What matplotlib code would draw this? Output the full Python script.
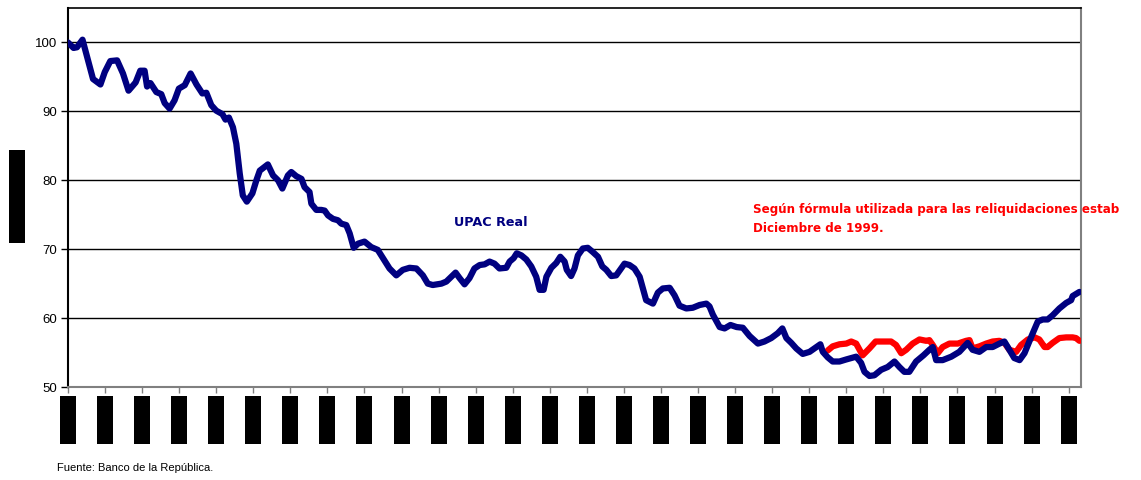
import matplotlib
matplotlib.use("Agg")
import matplotlib.pyplot as plt
import matplotlib.transforms as mtransforms
from matplotlib.patches import Rectangle

# =========================
# STYLE
# =========================

plt.rcParams.update({
    "font.family": ["Liberation Sans", "DejaVu Sans"],
    "font.size": 9.5,
    "axes.linewidth": 1.5,
})

# =========================
# DATA (months from start, index values)
# =========================

upac_mes = [
    0, 1.8, 2.9, 4.7, 6.5, 8.1, 10.5, 11.9, 13.7, 15.9, 17.8, 19.6, 21.9, 23.4,
    24.8, 25.6, 26.7, 28.6, 30.2, 31.3, 32.9, 34.5, 35.9, 37.8, 39.7, 41.6,
    43.5, 44.8, 46.4, 48.0, 50.0, 51.0, 52.1, 53.4, 54.5, 55.6, 56.6, 57.9,
    59.7, 61.0, 62.1, 64.7, 66.4, 68.0, 69.4, 71.2, 72.3, 73.9, 75.6, 76.6,
    78.2, 78.8, 80.4, 82.0, 83.1, 84.2, 85.8, 87.4, 88.5, 90.1, 91.2, 92.5,
    93.9, 96.0, 98.2, 100.3, 102.0, 104.1, 106.3, 108.4, 110.6, 112.8, 114.9,
    116.5, 118.1, 120.9, 122.5, 124.1, 125.5, 126.8, 128.4, 130.0, 131.6,
    133.3, 134.9, 136.5, 138.1, 139.7, 141.9, 143.0, 144.3, 145.3, 146.8,
    148.4, 150.0, 151.6, 152.7, 154.0, 154.9, 156.5, 158.1, 159.4, 160.8,
    161.5, 162.9, 164.0, 165.1, 166.7, 168.3, 169.9, 171.6, 173.0, 174.3,
    175.9, 177.5, 179.1, 180.2, 181.8, 183.4, 185.1, 186.1, 187.2, 189.4,
    191.0, 192.6, 194.8, 196.4, 198.0, 200.2, 202.3, 204.5, 206.7, 207.7,
    208.8, 211.0, 212.6, 214.5, 216.5, 218.5, 220.7, 223.4, 225.5, 227.7,
    229.8, 231.3, 232.6, 234.2, 235.8, 237.9, 240.1, 242.3, 243.6, 244.4,
    246.0, 247.6, 249.8, 252.0, 255.2, 256.8, 257.9, 259.5, 261.1, 263.3,
    265.4, 267.6, 269.2, 270.8, 272.4, 274.6, 277.0, 278.9, 280.0, 281.1,
    283.2, 286.0, 288.6, 291.3, 292.9, 295.1, 297.3, 299.4, 301.6, 303.2,
    304.8, 306.4, 308.1, 309.7, 311.9, 314.0, 315.6, 317.2, 318.8, 321.0,
    323.2, 324.8, 325.3, 327.5,
]

upac_real = [
    100.0, 99.2, 99.3, 100.4, 97.4, 94.7, 93.9, 95.7, 97.3, 97.4, 95.5, 93.0,
    94.2, 95.9, 95.9, 93.6, 94.1, 92.8, 92.5, 91.2, 90.4, 91.6, 93.3, 93.8,
    95.5, 93.9, 92.6, 92.7, 90.9, 90.1, 89.6, 88.8, 89.1, 87.7, 85.3, 81.0,
    77.8, 76.9, 78.1, 80.0, 81.4, 82.3, 80.7, 80.0, 78.8, 80.7, 81.2, 80.6,
    80.2, 79.0, 78.3, 76.6, 75.7, 75.7, 75.6, 74.9, 74.4, 74.2, 73.7, 73.5,
    72.3, 70.2, 70.8, 71.1, 70.3, 69.9, 68.7, 67.2, 66.2, 67.0, 67.3, 67.2,
    66.2, 65.0, 64.8, 65.0, 65.3, 66.0, 66.6, 65.8, 64.9, 65.8, 67.2, 67.7,
    67.8, 68.2, 67.9, 67.2, 67.3, 68.2, 68.7, 69.4, 69.1, 68.5, 67.5, 66.0,
    64.1, 64.1, 66.0, 67.3, 68.0, 68.9, 68.2, 67.0, 66.1, 67.2, 69.1, 70.1,
    70.2, 69.6, 68.9, 67.5, 67.0, 66.1, 66.2, 67.2, 67.9, 67.7, 67.2, 66.0,
    64.4, 62.6, 62.1, 63.7, 64.3, 64.4, 63.3, 61.8, 61.4, 61.5, 61.9, 62.1,
    61.7, 60.5, 58.7, 58.5, 59.0, 58.7, 58.6, 57.4, 56.3, 56.6, 57.1, 57.8,
    58.5, 57.1, 56.4, 55.6, 54.8, 55.1, 55.8, 56.2, 55.1, 54.3, 53.7, 53.7,
    54.0, 54.4, 53.5, 52.2, 51.6, 51.7, 52.5, 52.9, 53.7, 52.9, 52.2, 52.2,
    53.7, 54.6, 55.4, 55.8, 53.9, 53.9, 54.4, 55.1, 56.4, 55.4, 55.1, 55.8,
    55.8, 56.3, 56.6, 55.4, 54.2, 53.9, 54.9, 57.3, 59.5, 59.8, 59.8, 60.4,
    61.4, 62.2, 62.6, 63.2, 63.8,
]

reliq_mes = [
    246.0, 247.6, 249.8, 252.0, 253.6, 255.2, 256.3, 257.3, 259.5, 261.5,
    263.8, 266.5, 268.1, 269.8, 271.4, 273.5, 275.7, 277.9, 278.9, 280.0,
    281.6, 283.2, 285.4, 288.1, 290.8, 291.9, 292.9, 295.1, 297.3, 299.4,
    301.6, 303.2, 304.8, 307.0, 308.6, 310.8, 313.0, 314.5, 316.2, 317.2,
    318.8, 321.0, 323.2, 325.3, 326.4, 327.5,
]

reliq_valor = [
    55.3, 55.9, 56.2, 56.3, 56.6, 56.3, 55.4, 54.6, 55.6, 56.6, 56.6, 56.6,
    56.1, 54.9, 55.4, 56.3, 56.9, 56.7, 56.8, 56.1, 54.9, 55.8, 56.3, 56.3,
    56.7, 56.8, 55.6, 55.9, 56.3, 56.6, 56.7, 56.4, 55.4, 55.1, 56.1, 56.9,
    57.2, 56.9, 55.8, 55.8, 56.4, 57.1, 57.2, 57.2, 57.1, 56.7,
]

tick_meses = list(range(0, 325, 12))
y_ticks = [50, 60, 70, 80, 90, 100]

# =========================
# FIGURE
# =========================

fig = plt.figure(figsize=(11.41, 4.8), dpi=100)
ax = fig.add_axes([68 / 1141, 93 / 480, 1013 / 1141, 379 / 480])

ax.plot(reliq_mes, reliq_valor, color="#FF0000", linewidth=4.5,
        solid_joinstyle="round", solid_capstyle="round", zorder=3)
ax.plot(upac_mes, upac_real, color="#000080", linewidth=4.5,
        solid_joinstyle="round", solid_capstyle="round", zorder=4)

ax.set_xlim(0, 328)
ax.set_ylim(50, 105)
ax.set_yticks(y_ticks)
ax.set_xticks(tick_meses)
ax.set_xticklabels([])

for v in y_ticks[1:]:
    ax.axhline(v, color="black", linewidth=1.0, zorder=1)

ax.tick_params(axis="y", direction="out", length=5, width=1, pad=3,
               labelsize=9.5, colors="black")
ax.tick_params(axis="x", direction="out", length=4, width=1,
               color="#808080")

ax.spines["left"].set_color("black")
ax.spines["top"].set_color("black")
ax.spines["top"].set_linewidth(1.2)
ax.spines["right"].set_color("#808080")
ax.spines["bottom"].set_color("#808080")

# redacted x tick labels
trans = mtransforms.blended_transform_factory(ax.transData, fig.transFigure)
box_w = 16 / (1013 / 328)
for m in tick_meses:
    fig.patches.append(Rectangle((m - box_w / 2, 36 / 480), box_w, 48 / 480,
                                 transform=trans, facecolor="black",
                                 edgecolor="none", figure=fig))

# redacted y axis title
fig.patches.append(Rectangle((9 / 1141, 237 / 480), 16 / 1141, 93 / 480,
                             transform=fig.transFigure, facecolor="black",
                             edgecolor="none", figure=fig))

# annotations
ax.text(0.381, 0.435, "UPAC Real", transform=ax.transAxes,
        color="#000080", fontsize=9.2, fontweight="bold",
        family="DejaVu Sans", va="center", ha="left")

fig.text(753 / 1141, 1 - 210 / 480,
         "Según fórmula utilizada para las reliquidaciones estab",
         color="#FF0000", fontsize=8.6, fontweight="bold",
         family="DejaVu Sans", va="center", ha="left")
fig.text(753 / 1141, 1 - 228 / 480, "Diciembre de 1999.",
         color="#FF0000", fontsize=8.6, fontweight="bold",
         family="DejaVu Sans", va="center", ha="left")

fig.text(57 / 1141, 1 - 468 / 480, "Fuente: Banco de la República.",
         fontsize=8, va="center", ha="left")

fig.savefig("out.png", dpi=100, facecolor="white")
